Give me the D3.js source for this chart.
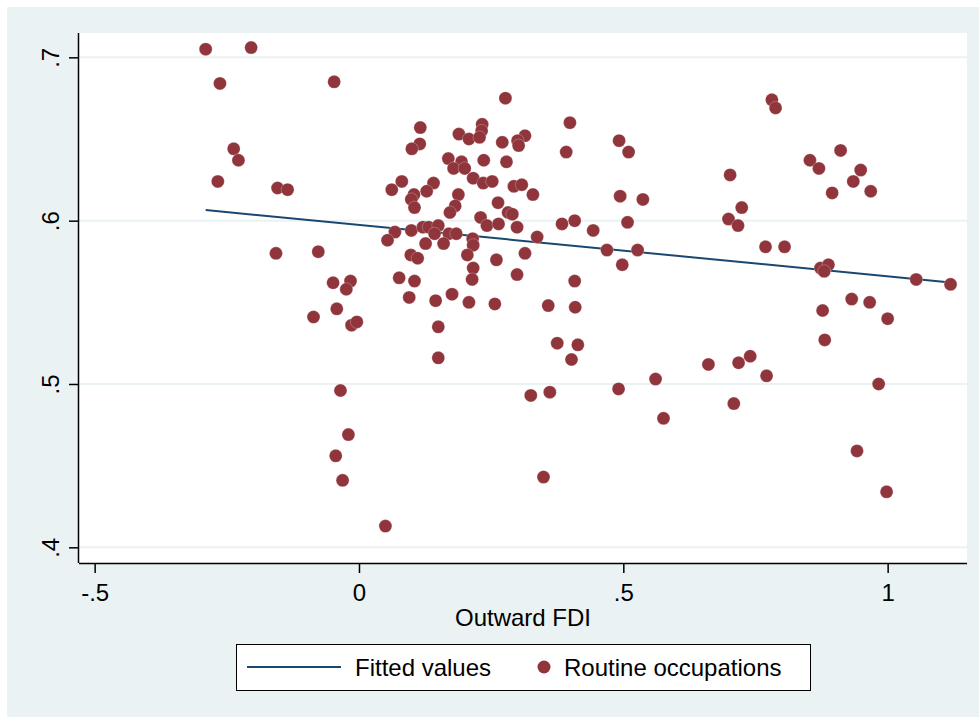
<!DOCTYPE html>
<html lang="en">
<head>
<meta charset="utf-8">
<script src="https://d3js.org/d3.v7.min.js"></script>
<style>
  body { margin: 0; background: #fff; }
  text { font-family: "Liberation Sans", Arial, Helvetica, sans-serif; }
</style>
</head>
<body>
<script>

// outward FDI (x) and share of routine occupations (y)
var fdi = [
  -0.290, -0.204, -0.263, -0.047, -0.237, -0.228, -0.267, -0.154, -0.135, -0.157, -0.077, -0.049, -0.016, -0.024,
  -0.042, -0.086, -0.014, -0.004, -0.035, -0.020, -0.044, -0.031,
  0.277, 0.399, 0.116, 0.233, 0.232, 0.189, 0.208, 0.228, 0.314, 0.300, 0.302, 0.271, 0.492, 0.510, 0.392, 0.115,
  0.100, 0.169, 0.194, 0.179, 0.200, 0.236, 0.279, 0.216, 0.235, 0.252, 0.293, 0.308, 0.329, 0.081, 0.062, 0.141,
  0.128, 0.104, 0.099, 0.105, 0.188, 0.182, 0.172, 0.263, 0.282, 0.290, 0.494, 0.537, 0.230, 0.242, 0.264, 0.384,
  0.408, 0.299, 0.508, 0.443, 0.337, 0.068, 0.054, 0.099, 0.121, 0.132, 0.150, 0.143, 0.170, 0.184, 0.160, 0.126,
  0.215, 0.216, 0.205, 0.314, 0.469, 0.527, 0.498, 0.098, 0.111, 0.260, 0.216, 0.299, 0.214, 0.076, 0.105, 0.408,
  0.095, 0.145, 0.176, 0.208, 0.257, 0.358, 0.409, 0.150, 0.375, 0.414, 0.402, 0.150, 0.325, 0.361, 0.491, 0.561,
  0.576, 0.349, 0.050,
  0.781, 0.788, 0.911, 0.853, 0.870, 0.949, 0.935, 0.895, 0.968, 0.702, 0.724, 0.699, 0.717, 0.769, 0.805, 0.873,
  0.888, 0.880, 1.054, 1.119,
  0.932, 0.966, 0.877, 1.000, 0.881, 0.661, 0.718, 0.740, 0.771, 0.709, 0.983, 0.942, 0.998
];
var routine = [
  0.705, 0.706, 0.684, 0.685, 0.644, 0.637, 0.624, 0.620, 0.619, 0.580, 0.581, 0.562, 0.563, 0.558,
  0.546, 0.541, 0.536, 0.538, 0.496, 0.469, 0.456, 0.441,
  0.675, 0.660, 0.657, 0.659, 0.655, 0.653, 0.650, 0.651, 0.652, 0.649, 0.646, 0.648, 0.649, 0.642, 0.642, 0.647,
  0.644, 0.638, 0.636, 0.632, 0.632, 0.637, 0.636, 0.626, 0.623, 0.624, 0.621, 0.622, 0.616, 0.624, 0.619, 0.623,
  0.618, 0.616, 0.613, 0.608, 0.616, 0.609, 0.605, 0.611, 0.605, 0.604, 0.615, 0.613, 0.602, 0.597, 0.598, 0.598,
  0.600, 0.596, 0.599, 0.594, 0.590, 0.593, 0.588, 0.594, 0.596, 0.596, 0.597, 0.592, 0.592, 0.592, 0.586, 0.586,
  0.589, 0.585, 0.579, 0.580, 0.582, 0.582, 0.573, 0.579, 0.577, 0.576, 0.571, 0.567, 0.564, 0.565, 0.563, 0.563,
  0.553, 0.551, 0.555, 0.550, 0.549, 0.548, 0.547, 0.535, 0.525, 0.524, 0.515, 0.516, 0.493, 0.495, 0.497, 0.503,
  0.479, 0.443, 0.413,
  0.674, 0.669, 0.643, 0.637, 0.632, 0.631, 0.624, 0.617, 0.618, 0.628, 0.608, 0.601, 0.597, 0.584, 0.584, 0.571,
  0.573, 0.569, 0.564, 0.561,
  0.552, 0.550, 0.545, 0.540, 0.527, 0.512, 0.513, 0.517, 0.505, 0.488, 0.500, 0.459, 0.434
];

// fitted values line, end points
var fittedX = [-0.290, 1.119];
var fittedY = [0.6065, 0.5622];

var xTicks = [-0.5, 0, 0.5, 1];
var xTickLabels = ['-.5', '0', '.5', '1'];
var yTicks = [0.4, 0.5, 0.6, 0.7];
var yTickLabels = ['.4', '.5', '.6', '.7'];

var xTitle = 'Outward FDI';
var legendLabels = ['Fitted values', 'Routine occupations'];

const
  width = 979,
  height = 717,
  pLeft = 79, pRight = 967, pTop = 33, pBottom = 563,
  bg = 'rgb(234,242,243)',
  dotColor = 'rgb(144,53,59)',
  lineColor = 'rgb(26,71,111)';

var x = d3.scaleLinear().domain([-0.5296, 1.1501]).range([pLeft, pRight]);
var y = d3.scaleLinear().domain([0.3904, 0.7149]).range([pBottom, pTop]);

var svg = d3.select('body')
  .append('svg')
  .attr('width', width)
  .attr('height', height);

svg.append('rect')
  .attr('x', 7).attr('y', 7)
  .attr('width', width - 7).attr('height', height - 7)
  .attr('fill', bg);

svg.append('rect')
  .attr('x', pLeft).attr('y', pTop)
  .attr('width', pRight - pLeft).attr('height', pBottom - pTop)
  .attr('fill', '#fff');

// grid
svg.selectAll('.grid')
  .data(yTicks)
  .enter()
  .append('line')
  .attr('x1', pLeft).attr('x2', pRight)
  .attr('y1', d => y(d)).attr('y2', d => y(d))
  .attr('stroke', bg)
  .attr('stroke-width', 2);

// axes
var xAxis = svg.append('g')
  .attr('transform', 'translate(0,' + pBottom + ')')
  .call(d3.axisBottom(x).tickValues(xTicks).tickSize(10).tickSizeOuter(0)
    .tickFormat((d, i) => xTickLabels[i]));
xAxis.select('.domain').attr('d', 'M' + pLeft + ',0.5H' + pRight);
xAxis.selectAll('text').attr('font-size', 24).attr('fill', '#000').attr('dy', '1.05em');

var yAxis = svg.append('g')
  .attr('transform', 'translate(' + pLeft + ',0)')
  .call(d3.axisLeft(y).tickValues(yTicks).tickSize(10).tickSizeOuter(0)
    .tickFormat((d, i) => yTickLabels[i]));
yAxis.select('.domain').attr('d', 'M-0.5,' + pTop + 'V' + pBottom);
yAxis.selectAll('text')
  .attr('font-size', 24).attr('fill', '#000')
  .attr('x', null).attr('dy', null)
  .attr('text-anchor', 'middle')
  .attr('transform', 'translate(-20,0) rotate(-90)');
svg.selectAll('.domain, .tick line').attr('stroke', '#000').attr('stroke-width', 1.5);

svg.append('text')
  .attr('x', (pLeft + pRight) / 2)
  .attr('y', 626)
  .attr('text-anchor', 'middle')
  .attr('font-size', 24)
  .text(xTitle);

// fitted line
var line = d3.line().x(d => x(d[0])).y(d => y(d[1]));
svg.append('path')
  .datum(d3.zip(fittedX, fittedY))
  .attr('fill', 'none')
  .attr('stroke', lineColor)
  .attr('stroke-width', 2)
  .attr('d', line);

// points
svg.selectAll('.dot')
  .data(d3.zip(fdi, routine))
  .enter()
  .append('circle')
  .attr('cx', d => x(d[0]))
  .attr('cy', d => y(d[1]))
  .attr('r', 6.5)
  .attr('fill', dotColor)
  .attr('stroke', 'rgba(255,255,255,0.5)')
  .attr('stroke-width', 0.5);

// legend
var lg = svg.append('g');
lg.append('rect')
  .attr('x', 236.5).attr('y', 644.5)
  .attr('width', 574).attr('height', 46)
  .attr('fill', '#fff')
  .attr('stroke', '#000')
  .attr('stroke-width', 1);
lg.append('line')
  .attr('x1', 247).attr('x2', 341)
  .attr('y1', 667).attr('y2', 667)
  .attr('stroke', lineColor).attr('stroke-width', 2);
lg.append('text')
  .attr('x', 355).attr('y', 676)
  .attr('font-size', 24)
  .text(legendLabels[0]);
lg.append('circle')
  .attr('cx', 544).attr('cy', 667).attr('r', 6.5)
  .attr('fill', dotColor);
lg.append('text')
  .attr('x', 564).attr('y', 676)
  .attr('font-size', 24)
  .text(legendLabels[1]);

</script>
</body>
</html>
